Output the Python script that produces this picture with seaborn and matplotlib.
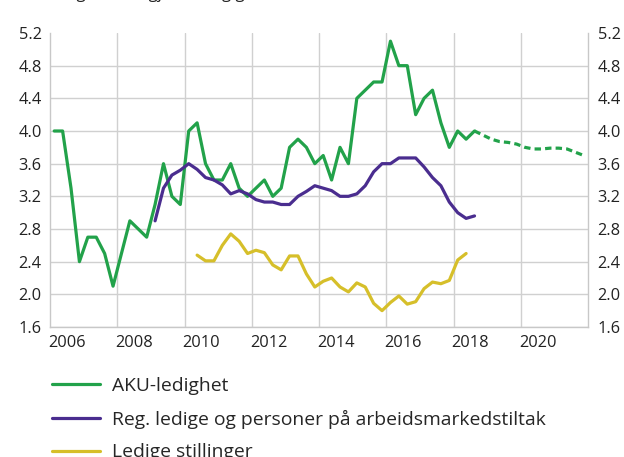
import seaborn as sns
import matplotlib
matplotlib.use("Agg")
import matplotlib.pyplot as plt
import numpy as np
import pandas as pd

sns.set_style("white")
plt.rcParams['font.family'] = ['Open Sans', 'DejaVu Sans']

GREEN = '#22a24a'
PURPLE = '#4a2d8f'
YELLOW = '#d6bf2a'
GRID = '#d0d0d0'

# quarterly values, first quarter given by the start period
aku_start = '2006Q1'
aku = [4.0, 4.0, 3.3, 2.4,
       2.7, 2.7, 2.5, 2.1,
       2.5, 2.9, 2.8, 2.7,
       3.1, 3.6, 3.2, 3.1,
       4.0, 4.1, 3.6, 3.4,
       3.4, 3.6, 3.3, 3.2,
       3.3, 3.4, 3.2, 3.3,
       3.8, 3.9, 3.8, 3.6,
       3.7, 3.4, 3.8, 3.6,
       4.4, 4.5, 4.6, 4.6,
       5.1, 4.8, 4.8, 4.2,
       4.4, 4.5, 4.1, 3.8,
       4.0, 3.9, 4.0]

aku_proj_start = '2018Q3'
aku_proj = [4.0, 3.95,
            3.9, 3.87, 3.86, 3.84,
            3.80, 3.78, 3.78, 3.79,
            3.79, 3.78, 3.74, 3.70]

reg_start = '2009Q1'
reg = [2.9, 3.3, 3.46, 3.52,
       3.6, 3.53, 3.43, 3.4,
       3.34, 3.23, 3.27, 3.23,
       3.16, 3.13, 3.13, 3.1,
       3.1, 3.2, 3.26, 3.33,
       3.3, 3.27, 3.2, 3.2,
       3.23, 3.33, 3.5, 3.6,
       3.6, 3.67, 3.67, 3.67,
       3.56, 3.43, 3.33, 3.13,
       3.0, 2.93, 2.96]

vac_start = '2010Q2'
vac = [2.48, 2.41, 2.41,
       2.6, 2.74, 2.65, 2.5,
       2.54, 2.51, 2.36, 2.3,
       2.47, 2.47, 2.25, 2.09,
       2.16, 2.2, 2.09, 2.03,
       2.14, 2.09, 1.89, 1.8,
       1.9, 1.98, 1.88, 1.91,
       2.07, 2.15, 2.13, 2.17,
       2.42, 2.5]

labels = ['AKU-ledighet',
          'Reg. ledige og personer på arbeidsmarkedstiltak',
          'Ledige stillinger']
year_labels = ['2006', '2008', '2010', '2012', '2014', '2016', '2018', '2020']
y_ticks = [1.6, 2.0, 2.4, 2.8, 3.2, 3.6, 4.0, 4.4, 4.8, 5.2]


def quarterly_frame(start, values):
    p = pd.period_range(start, periods=len(values), freq='Q')
    t = p.year + (p.quarter - 0.5) / 4
    return pd.DataFrame({'t': t, 'value': values})


fig = plt.figure(figsize=(6.24, 4.57), dpi=100)
ax = fig.add_axes([50 / 624, 1 - 327 / 457, 538 / 624, 294 / 457])

sns.lineplot(data=quarterly_frame(aku_start, aku), x='t', y='value',
             color=GREEN, lw=2.3, ax=ax, label=labels[0])
sns.lineplot(data=quarterly_frame(aku_proj_start, aku_proj), x='t', y='value',
             color=GREEN, lw=2.3, ax=ax, linestyle=(0, (2.0, 1.3)))
sns.lineplot(data=quarterly_frame(reg_start, reg), x='t', y='value',
             color=PURPLE, lw=2.3, ax=ax, label=labels[1])
sns.lineplot(data=quarterly_frame(vac_start, vac), x='t', y='value',
             color=YELLOW, lw=2.3, ax=ax, label=labels[2])

ax.set_xlim(2006, 2022)
ax.set_ylim(1.6, 5.2)
ax.set_xlabel('')
ax.set_ylabel('')

# year labels centred on the year, gridlines at the year boundaries
ax.set_xticks([int(y) + 0.5 for y in year_labels])
ax.set_xticklabels(year_labels)
ax.set_xticks(np.arange(2008, 2022, 2), minor=True)
ax.set_yticks(y_ticks)
ax.set_yticklabels([f'{v:.1f}' for v in y_ticks])

ax.grid(False)
ax.grid(True, which='minor', axis='x', color=GRID, lw=1)
ax.grid(True, which='major', axis='y', color=GRID, lw=1)
ax.yaxis.get_gridlines()[-1].set_visible(False)
ax.tick_params(which='both', length=0, labelsize=11.8, colors='#222222')
ax.tick_params(axis='x', pad=6)
ax.tick_params(axis='y', pad=6)

for side in ['left', 'right', 'bottom']:
    ax.spines[side].set_color('#c8c8c8')
    ax.spines[side].set_linewidth(1)
ax.spines['top'].set_visible(False)

ax2 = ax.twinx()
ax2.set_ylim(1.6, 5.2)
ax2.set_yticks(y_ticks)
ax2.set_yticklabels([f'{v:.1f}' for v in y_ticks])
ax2.tick_params(length=0, labelsize=11.8, colors='#222222', pad=7)
for side in ['left', 'right', 'bottom', 'top']:
    ax2.spines[side].set_visible(False)
ax2.grid(False)

handles, lbls = ax.get_legend_handles_labels()
ax.get_legend().remove()
fig.legend(handles, lbls, loc='upper left', bbox_to_anchor=(52 / 624, 1 - 377 / 457),
           frameon=False, fontsize=13.9, handlelength=2.5, handletextpad=0.6,
           labelspacing=0.76, borderaxespad=0, borderpad=0)

# subtitle sits above the crop, only its lower edge is visible
fig.text(0.0, 1 + 1.5 / 457, 'Andel ledige, sesongjustert og glattet',
         fontsize=12, va='baseline', ha='left', color='#222222')

fig.savefig('out.png', dpi=100)
